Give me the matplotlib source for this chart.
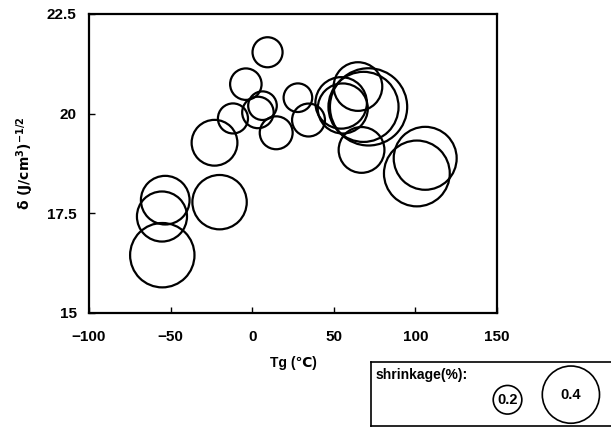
import numpy as np
import matplotlib
matplotlib.use("Agg")
import matplotlib.pyplot as plt

plt.rcParams['font.family'] = ['Liberation Sans', 'DejaVu Sans']
plt.rcParams['font.weight'] = 'bold'

# Tg (C), solubility parameter delta, shrinkage (%)
tg = [9.4, -3.9, 6.3, 3.5, -11.8, 28, 14.7, 34.5, -23.1,
      -53.3, -55.3, -55.1, -20.0, 106, 100.9, 67,
      64.8, 71.3, 68.2, 54.5, 55.5]
delta = [21.54, 20.74, 20.2, 20.03, 19.88, 20.4, 19.52, 19.84, 19.27,
         17.83, 17.42, 16.45, 17.78, 18.88, 18.5, 19.09,
         20.68, 20.17, 20.17, 20.27, 20.13]
shrink = [0.21, 0.22, 0.20, 0.22, 0.21, 0.20, 0.23, 0.23, 0.32,
          0.34, 0.35, 0.45, 0.38, 0.44, 0.46, 0.32,
          0.34, 0.54, 0.49, 0.36, 0.35]

legend_vals = [0.2, 0.4]

def bubble_size(s):
    # marker diameter proportional to shrinkage
    return (103 * np.asarray(s)) ** 2

fig = plt.figure(figsize=(6.11, 4.29), dpi=100)
ax = fig.add_axes([0.1457, 0.2704, 0.6677, 0.697])

ax.scatter(tg, delta, s=bubble_size(shrink), facecolors='none',
           edgecolors='black', linewidths=1.6, clip_on=False)

ax.set_xlim(-100, 150)
ax.set_ylim(15, 22.5)
ax.set_xticks([-100, -50, 0, 50, 100, 150])
ax.set_xticklabels(['\u2212100', '\u221250', '0', '50', '100', '150'])
ax.set_yticks([15, 17.5, 20, 22.5])
ax.set_yticklabels(['15', '17.5', '20', '22.5'])
ax.tick_params(direction='in', length=4, width=1, labelsize=11)
ax.tick_params(axis='x', pad=12)
ax.tick_params(axis='y', pad=9)
for sp in ax.spines.values():
    sp.set_linewidth(1.6)

ax.set_xlabel('Tg (\u2103)', fontsize=10, fontweight='bold', labelpad=9)
ax.set_ylabel(r'$\mathbf{\delta\ (J/cm^3)^{-1/2}}$', fontsize=10, labelpad=8)

# size legend box below right
lg = fig.add_axes([371 / 611, 3 / 429, 0.41, 64 / 429])
lg.set_xlim(0, 1)
lg.set_ylim(0, 1)
lg.set_xticks([])
lg.set_yticks([])
for sp in lg.spines.values():
    sp.set_linewidth(1.2)
lx = [0.545, 0.798]
ly = [0.41, 0.49]
lg.scatter(lx, ly, s=bubble_size(legend_vals), facecolors='none',
           edgecolors='black', linewidths=1.2, clip_on=False)
for x, y, v in zip(lx, ly, legend_vals):
    lg.text(x, y, str(v), ha='center', va='center', fontsize=10.5, fontweight='bold')
lg.text(0.02, 0.9, 'shrinkage(%):', ha='left', va='top', fontsize=10, fontweight='bold')

fig.savefig('out.png', dpi=100)
